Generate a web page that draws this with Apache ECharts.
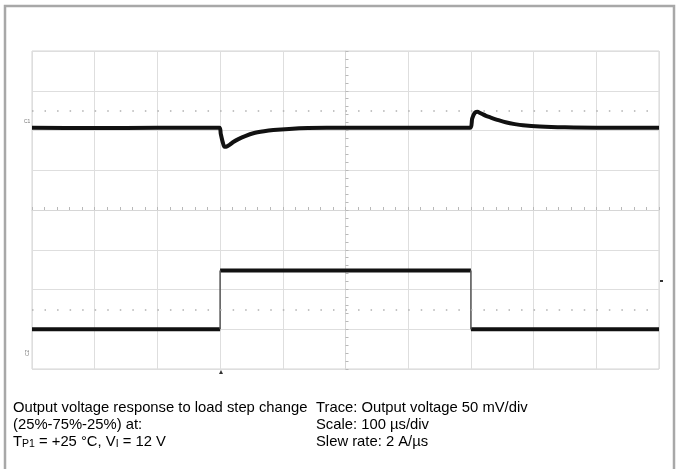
<!DOCTYPE html>
<html>
<head>
<meta charset="utf-8">
<script src="https://cdn.jsdelivr.net/npm/echarts@6/dist/echarts.min.js"></script>
<style>
  html, body { margin: 0; padding: 0; background: #fff; }
  #chart { width: 678px; height: 469px; }
</style>
</head>
<body>
<div id="chart"></div>
<script>
// Time axis: 100 µs/div, 10 divisions. Vertical axis in screen divisions (8 div).
const xTicks = [0, 100, 200, 300, 400, 500, 600, 700, 800, 900, 1000];

// Trace 1: output voltage (50 mV/div), in divisions
const vTime  = [0, 100, 200, 299, 301, 304, 307, 311, 316, 321, 330, 340, 353, 370, 385, 410, 440, 500, 600, 699,
                702, 706, 710, 716, 724, 731, 744, 757, 770, 783, 810, 850, 900, 1000];
const vLevel = [6.07, 6.06, 6.07, 6.07, 5.92, 5.72, 5.59, 5.60, 5.65, 5.71, 5.79, 5.86, 5.93, 5.98, 6.01, 6.04, 6.06, 6.07, 6.07, 6.07,
                6.30, 6.44, 6.47, 6.43, 6.37, 6.33, 6.26, 6.20, 6.16, 6.13, 6.10, 6.08, 6.07, 6.07];

// Trace 2: load current step (25%-75%-25%), in divisions
const iTime  = [0, 300, null, 300, 700, null, 700, 1000];
const iLevel = [1.00, 1.00, null, 2.48, 2.48, null, 1.00, 1.00];
// step edges (drawn thin, as on the scope)
const edgeTime  = [300, 300, null, 700, 700];
const edgeLevel = [1.00, 2.48, null, 2.48, 1.00];

// dotted marker levels on the graticule
const markerLevels = [6.5, 1.5];

function pairs(xs, ys) {
  return xs.map((x, i) => (x === null ? [null, null] : [x, ys[i]]));
}

const font = "'Liberation Sans', Arial, sans-serif";
const chart = echarts.init(document.getElementById('chart'), null, { renderer: 'canvas' });

const hiddenAxisBits = { axisLabel: { show: false }, axisTick: { show: false } };
const fs = 14.8, lh = 16.6;

chart.setOption({
  animation: false,
  backgroundColor: '#ffffff',
  title: [
    {
      left: 8, top: 395,
      text: 'Output voltage response to load step change\n(25%-75%-25%) at:\n{a|T}{s|P1}{a| = +25 °C, V}{s|I}{a| = 12 V}',
      textStyle: {
        fontFamily: font, fontSize: fs, fontWeight: 'normal', color: '#000', lineHeight: lh,
        rich: {
          a: { fontFamily: font, fontSize: fs, color: '#000', lineHeight: lh },
          s: { fontFamily: font, fontSize: 10.5, color: '#000', lineHeight: lh, padding: [6, 0, 0, 0] }
        }
      }
    },
    {
      left: 311, top: 395,
      text: 'Trace: Output voltage 50 mV/div\nScale: 100 µs/div\nSlew rate: 2 A/µs',
      textStyle: { fontFamily: font, fontSize: fs, fontWeight: 'normal', color: '#000', lineHeight: lh }
    }
  ],
  grid: [
    { left: 32, right: 19, top: 51, bottom: 100, show: true, borderColor: '#d4d4d4', borderWidth: 1 },
    { left: 32, right: 19, top: 51, bottom: 100 }
  ],
  xAxis: [
    {
      type: 'value', gridIndex: 0, min: xTicks[0], max: xTicks[xTicks.length - 1], interval: 100,
      axisLine: { show: false }, ...hiddenAxisBits,
      splitLine: { show: true, lineStyle: { color: '#dedede', width: 1 } }
    },
    {
      type: 'value', gridIndex: 1, min: -5, max: 5, interval: 1,
      axisLine: { show: true, onZero: true, lineStyle: { color: '#d6d6d6', width: 1 } },
      axisTick: { show: true, inside: true, length: 3, lineStyle: { color: '#b8b8b8' } },
      minorTick: { show: true, splitNumber: 5, length: 3, lineStyle: { color: '#b8b8b8' } },
      axisLabel: { show: false }, splitLine: { show: false }
    }
  ],
  yAxis: [
    {
      type: 'value', gridIndex: 0, min: 0, max: 8, interval: 1,
      axisLine: { show: false }, ...hiddenAxisBits,
      splitLine: { show: true, lineStyle: { color: '#dedede', width: 1 } }
    },
    {
      type: 'value', gridIndex: 1, min: -4, max: 4, interval: 1,
      axisLine: { show: true, onZero: true, lineStyle: { color: '#d6d6d6', width: 1 } },
      axisTick: { show: true, inside: true, length: 3, lineStyle: { color: '#b8b8b8' } },
      minorTick: { show: true, splitNumber: 5, length: 3, lineStyle: { color: '#b8b8b8' } },
      axisLabel: { show: false }, splitLine: { show: false }
    }
  ],
  series: [
    {
      name: 'Output voltage', type: 'line', xAxisIndex: 0, yAxisIndex: 0,
      data: pairs(vTime, vLevel), showSymbol: false, smooth: 0.25,
      lineStyle: { color: '#111', width: 4 },
      markLine: {
        silent: true, symbol: 'none', label: { show: false },
        lineStyle: { color: '#b0b0b0', width: 1.5, type: [1.5, 11.04] },
        data: markerLevels.map(v => ({ yAxis: v }))
      }
    },
    {
      name: 'Load step', type: 'line', xAxisIndex: 0, yAxisIndex: 0,
      data: pairs(iTime, iLevel), showSymbol: false, connectNulls: false,
      lineStyle: { color: '#111', width: 4 }
    },
    {
      name: 'Load step edges', type: 'line', xAxisIndex: 0, yAxisIndex: 0,
      data: pairs(edgeTime, edgeLevel), showSymbol: false, connectNulls: false,
      lineStyle: { color: '#555', width: 1.5 }
    }
  ],
  graphic: [
    { type: 'rect', shape: { x: 5, y: 6, width: 669, height: 520 }, style: { fill: 'none', stroke: '#a8a8a8', lineWidth: 2.5 }, silent: true },
    { type: 'text', x: 24, y: 119, style: { text: 'C1', fontSize: 5, fill: '#777', fontFamily: font }, silent: true },
    { type: 'text', x: 25, y: 356, rotation: Math.PI / 2, style: { text: 'C2', fontSize: 5, fill: '#777', fontFamily: font }, silent: true },
    { type: 'polygon', shape: { points: [[219, 374], [223, 374], [221, 370]] }, style: { fill: '#333' }, silent: true },
    { type: 'rect', shape: { x: 660, y: 280, width: 3, height: 2 }, style: { fill: '#333' }, silent: true }
  ]
});
</script>
</body>
</html>
